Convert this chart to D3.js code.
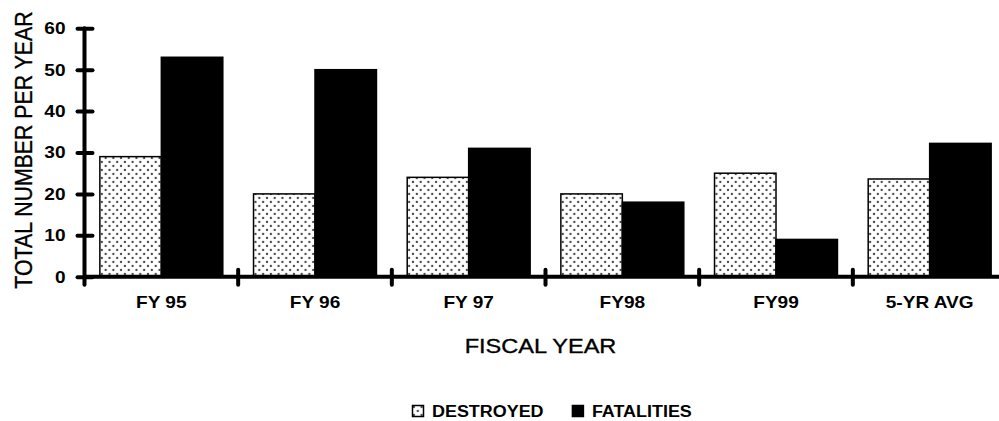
<!DOCTYPE html>
<html>
<head>
<meta charset="utf-8">
<script src="https://cdn.jsdelivr.net/npm/d3@7"></script>
<style>
  html, body { margin: 0; padding: 0; background: #fff; }
  svg { display: block; }
</style>
</head>
<body>
<svg id="chart" width="999" height="421"></svg>
<script>
// ---- data ----
const categories = ["FY 95", "FY 96", "FY 97", "FY98", "FY99", "5-YR AVG"];
const destroyed  = [29, 20, 24, 20, 25, 23.6];
const fatalities = [53, 50, 31, 18, 9, 32.2];
const yTicks     = [0, 10, 20, 30, 40, 50, 60];
const seriesNames = ["DESTROYED", "FATALITIES"];
const xTitle = "FISCAL YEAR";
const yTitle = "TOTAL NUMBER PER YEAR";

// ---- layout ----
const svg = d3.select("#chart");
const STRETCH = 1.12;
const boldFont = "'Liberation Sans', Arial, sans-serif";

const defs = svg.append("defs");
const pat = defs.append("pattern")
  .attr("id", "dots").attr("patternUnits", "userSpaceOnUse")
  .attr("width", 7.7).attr("height", 8);
pat.append("rect").attr("width", 7.7).attr("height", 8).attr("fill", "#fff");
pat.append("circle").attr("cx", 1.9).attr("cy", 2).attr("r", 1.15).attr("fill", "#444");
pat.append("circle").attr("cx", 5.75).attr("cy", 6).attr("r", 1.15).attr("fill", "#444");

const x = d3.scaleBand().domain(categories).range([84.5, 1006.5]).padding(0);
const xs = d3.scaleBand().domain(seriesNames)
  .range([x.bandwidth() * 0.1, x.bandwidth() * 0.9]).padding(0);
const y = d3.scaleLinear().domain([0, 60]).range([276.7, 28.3]);

function stretch(sel) {
  sel.each(function () {
    const len = this.getComputedTextLength();
    d3.select(this).attr("textLength", len * STRETCH).attr("lengthAdjust", "spacingAndGlyphs");
  });
}

// bars
const rows = categories.map((c, i) => ({ c, vals: [destroyed[i], fatalities[i]] }));
const grp = svg.append("g").selectAll("g").data(rows).join("g")
  .attr("transform", d => `translate(${x(d.c)},0)`);
grp.selectAll("rect").data(d => d.vals.map((v, j) => ({ s: seriesNames[j], v })))
  .join("rect")
  .attr("x", d => xs(d.s))
  .attr("width", xs.bandwidth())
  .attr("y", d => y(d.v))
  .attr("height", d => y(0) - y(d.v))
  .attr("fill", d => d.s === "DESTROYED" ? "url(#dots)" : "#000")
  .attr("stroke", "#000")
  .attr("stroke-width", 1.5);

// x axis
const xAxis = svg.append("g").attr("transform", `translate(0,${y(0)})`)
  .call(d3.axisBottom(x).tickSize(0).tickPadding(19));
xAxis.select(".domain").remove();
xAxis.append("line").attr("x1", x.range()[0]).attr("x2", 1010)
  .attr("stroke", "#000").attr("stroke-width", 4);
xAxis.selectAll(".sep").data(categories.slice(1)).join("line").attr("class", "sep")
  .attr("x1", d => x(d)).attr("x2", d => x(d))
  .attr("y1", -7).attr("y2", 8)
  .attr("stroke", "#000").attr("stroke-width", 4).attr("stroke-linecap", "round");
xAxis.selectAll(".tick text")
  .attr("font-family", boldFont).attr("font-weight", "bold")
  .attr("font-size", 17).attr("fill", "#000")
  .call(stretch);

// y axis
const yAxis = svg.append("g").attr("transform", `translate(${x.range()[0]},0)`)
  .call(d3.axisLeft(y).tickValues(yTicks).tickSize(0).tickPadding(19));
yAxis.select(".domain").remove();
yAxis.append("line").attr("y1", y(60)).attr("y2", y(0) + 8)
  .attr("stroke", "#000").attr("stroke-width", 4).attr("stroke-linecap", "round");
yAxis.selectAll(".tick line").attr("x1", -7).attr("x2", 8)
  .attr("stroke", "#000").attr("stroke-width", 4).attr("stroke-linecap", "round");
yAxis.selectAll(".tick text")
  .attr("font-family", boldFont).attr("font-weight", "bold")
  .attr("font-size", 17).attr("fill", "#000")
  .call(stretch);

// axis titles
svg.append("text")
  .attr("x", 540.5).attr("y", 353)
  .attr("text-anchor", "middle")
  .attr("font-family", "'Liberation Sans', Arial, sans-serif")
  .attr("font-size", 21).attr("fill", "#000")
  .attr("stroke", "#000").attr("stroke-width", 0.35)
  .text(xTitle).call(stretch);

svg.append("text")
  .attr("transform", `translate(31.5,150) scale(${STRETCH},1) rotate(-90)`)
  .attr("text-anchor", "middle")
  .attr("font-family", "'Liberation Sans', Arial, sans-serif")
  .attr("font-size", 21.3).attr("fill", "#000")
  .attr("stroke", "#000").attr("stroke-width", 0.3)
  .text(yTitle);

// legend
const legend = svg.append("g").attr("transform", "translate(412,405)");
let lx = 0;
seriesNames.forEach((s, i) => {
  const it = legend.append("g").attr("transform", `translate(${lx},0)`);
  it.append("rect").attr("x", 0.5).attr("y", 0.5).attr("width", 11).attr("height", 11)
    .attr("fill", i === 0 ? "url(#dots)" : "#000")
    .attr("stroke", "#000").attr("stroke-width", 1.5);
  const t = it.append("text").attr("x", 20).attr("y", 12)
    .attr("font-family", boldFont).attr("font-weight", "bold")
    .attr("font-size", 16).attr("fill", "#000").text(s).call(stretch);
  lx += 20 + t.node().getComputedTextLength() * STRETCH + 15;
});
</script>
</body>
</html>
